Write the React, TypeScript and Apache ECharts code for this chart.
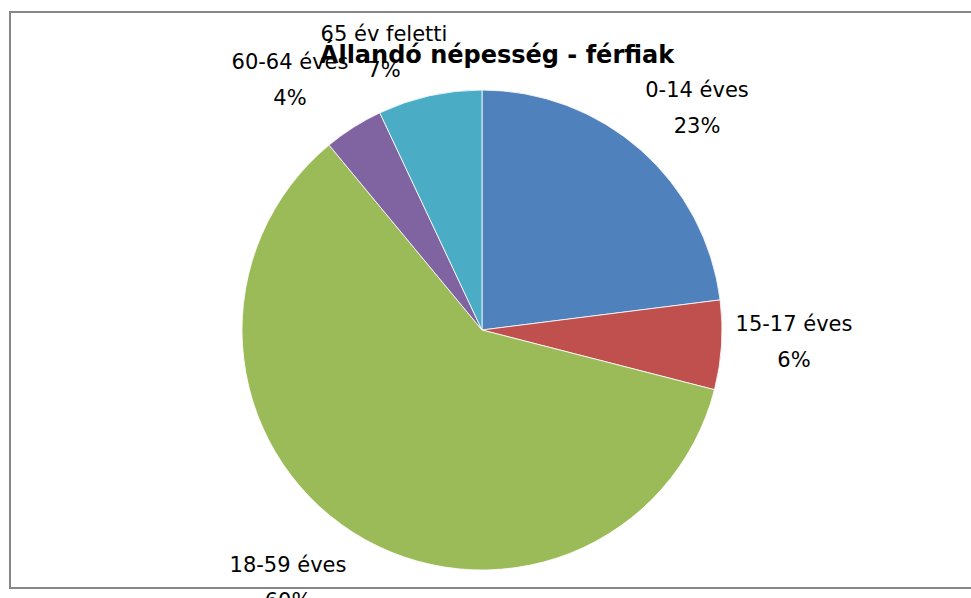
import React, { useEffect, useRef } from "react";
import * as echarts from "echarts";

const categories = ["0-14 éves", "15-17 éves", "18-59 éves", "60-64 éves", "65 év feletti"];
const values = [23, 6, 60, 4, 7];
const colors = ["#4F81BD", "#C0504D", "#9BBB59", "#8064A2", "#4BACC6"];
const titleText = "Állandó népesség - férfiak";
const labelCenters: [number, number][] = [
  [697, 108],
  [794, 342],
  [288, 583],
  [290, 80],
  [384, 52],
];

export default function App() {
  const ref = useRef<HTMLDivElement>(null);
  useEffect(() => {
    document.body.style.margin = "0";
    if (!ref.current) return;
    const chart = echarts.init(ref.current, null, { renderer: "svg" });
    chart.setOption({
      animation: false,
      backgroundColor: "#ffffff",
      title: {
        text: titleText,
        left: 492,
        top: 50,
        textAlign: "center",
        textVerticalAlign: "middle",
        textStyle: {
          fontFamily: "DejaVu Sans",
          fontWeight: "bold",
          fontSize: 24,
          color: "#000",
        },
        z: 10,
      },
      graphic: [
        {
          type: "rect",
          shape: { x: 10, y: 12, width: 980, height: 576 },
          style: { fill: "none", stroke: "#878787", lineWidth: 2 },
          z: -1,
        },
      ],
      series: [
        {
          type: "pie",
          center: [482, 330],
          radius: 240,
          startAngle: 90,
          clockwise: true,
          silent: true,
          data: categories.map((c, i) => ({
            name: c,
            value: values[i],
            itemStyle: { color: colors[i] },
          })),
          itemStyle: { borderColor: "#ffffff", borderWidth: 0.8 },
          label: {
            show: true,
            position: "outside",
            formatter: (p: any) => `${p.name}\n${p.value}%`,
            fontFamily: "DejaVu Sans",
            fontSize: 21,
            lineHeight: 36,
            color: "#000",
            align: "center",
          },
          labelLine: { show: false },
          labelLayout: (p: any) => ({
            x: labelCenters[p.dataIndex][0],
            y: labelCenters[p.dataIndex][1],
            align: "center",
            verticalAlign: "middle",
          }),
        },
      ],
    });
    return () => chart.dispose();
  }, []);
  return <div ref={ref} style={{ width: 971, height: 598 }} />;
}
